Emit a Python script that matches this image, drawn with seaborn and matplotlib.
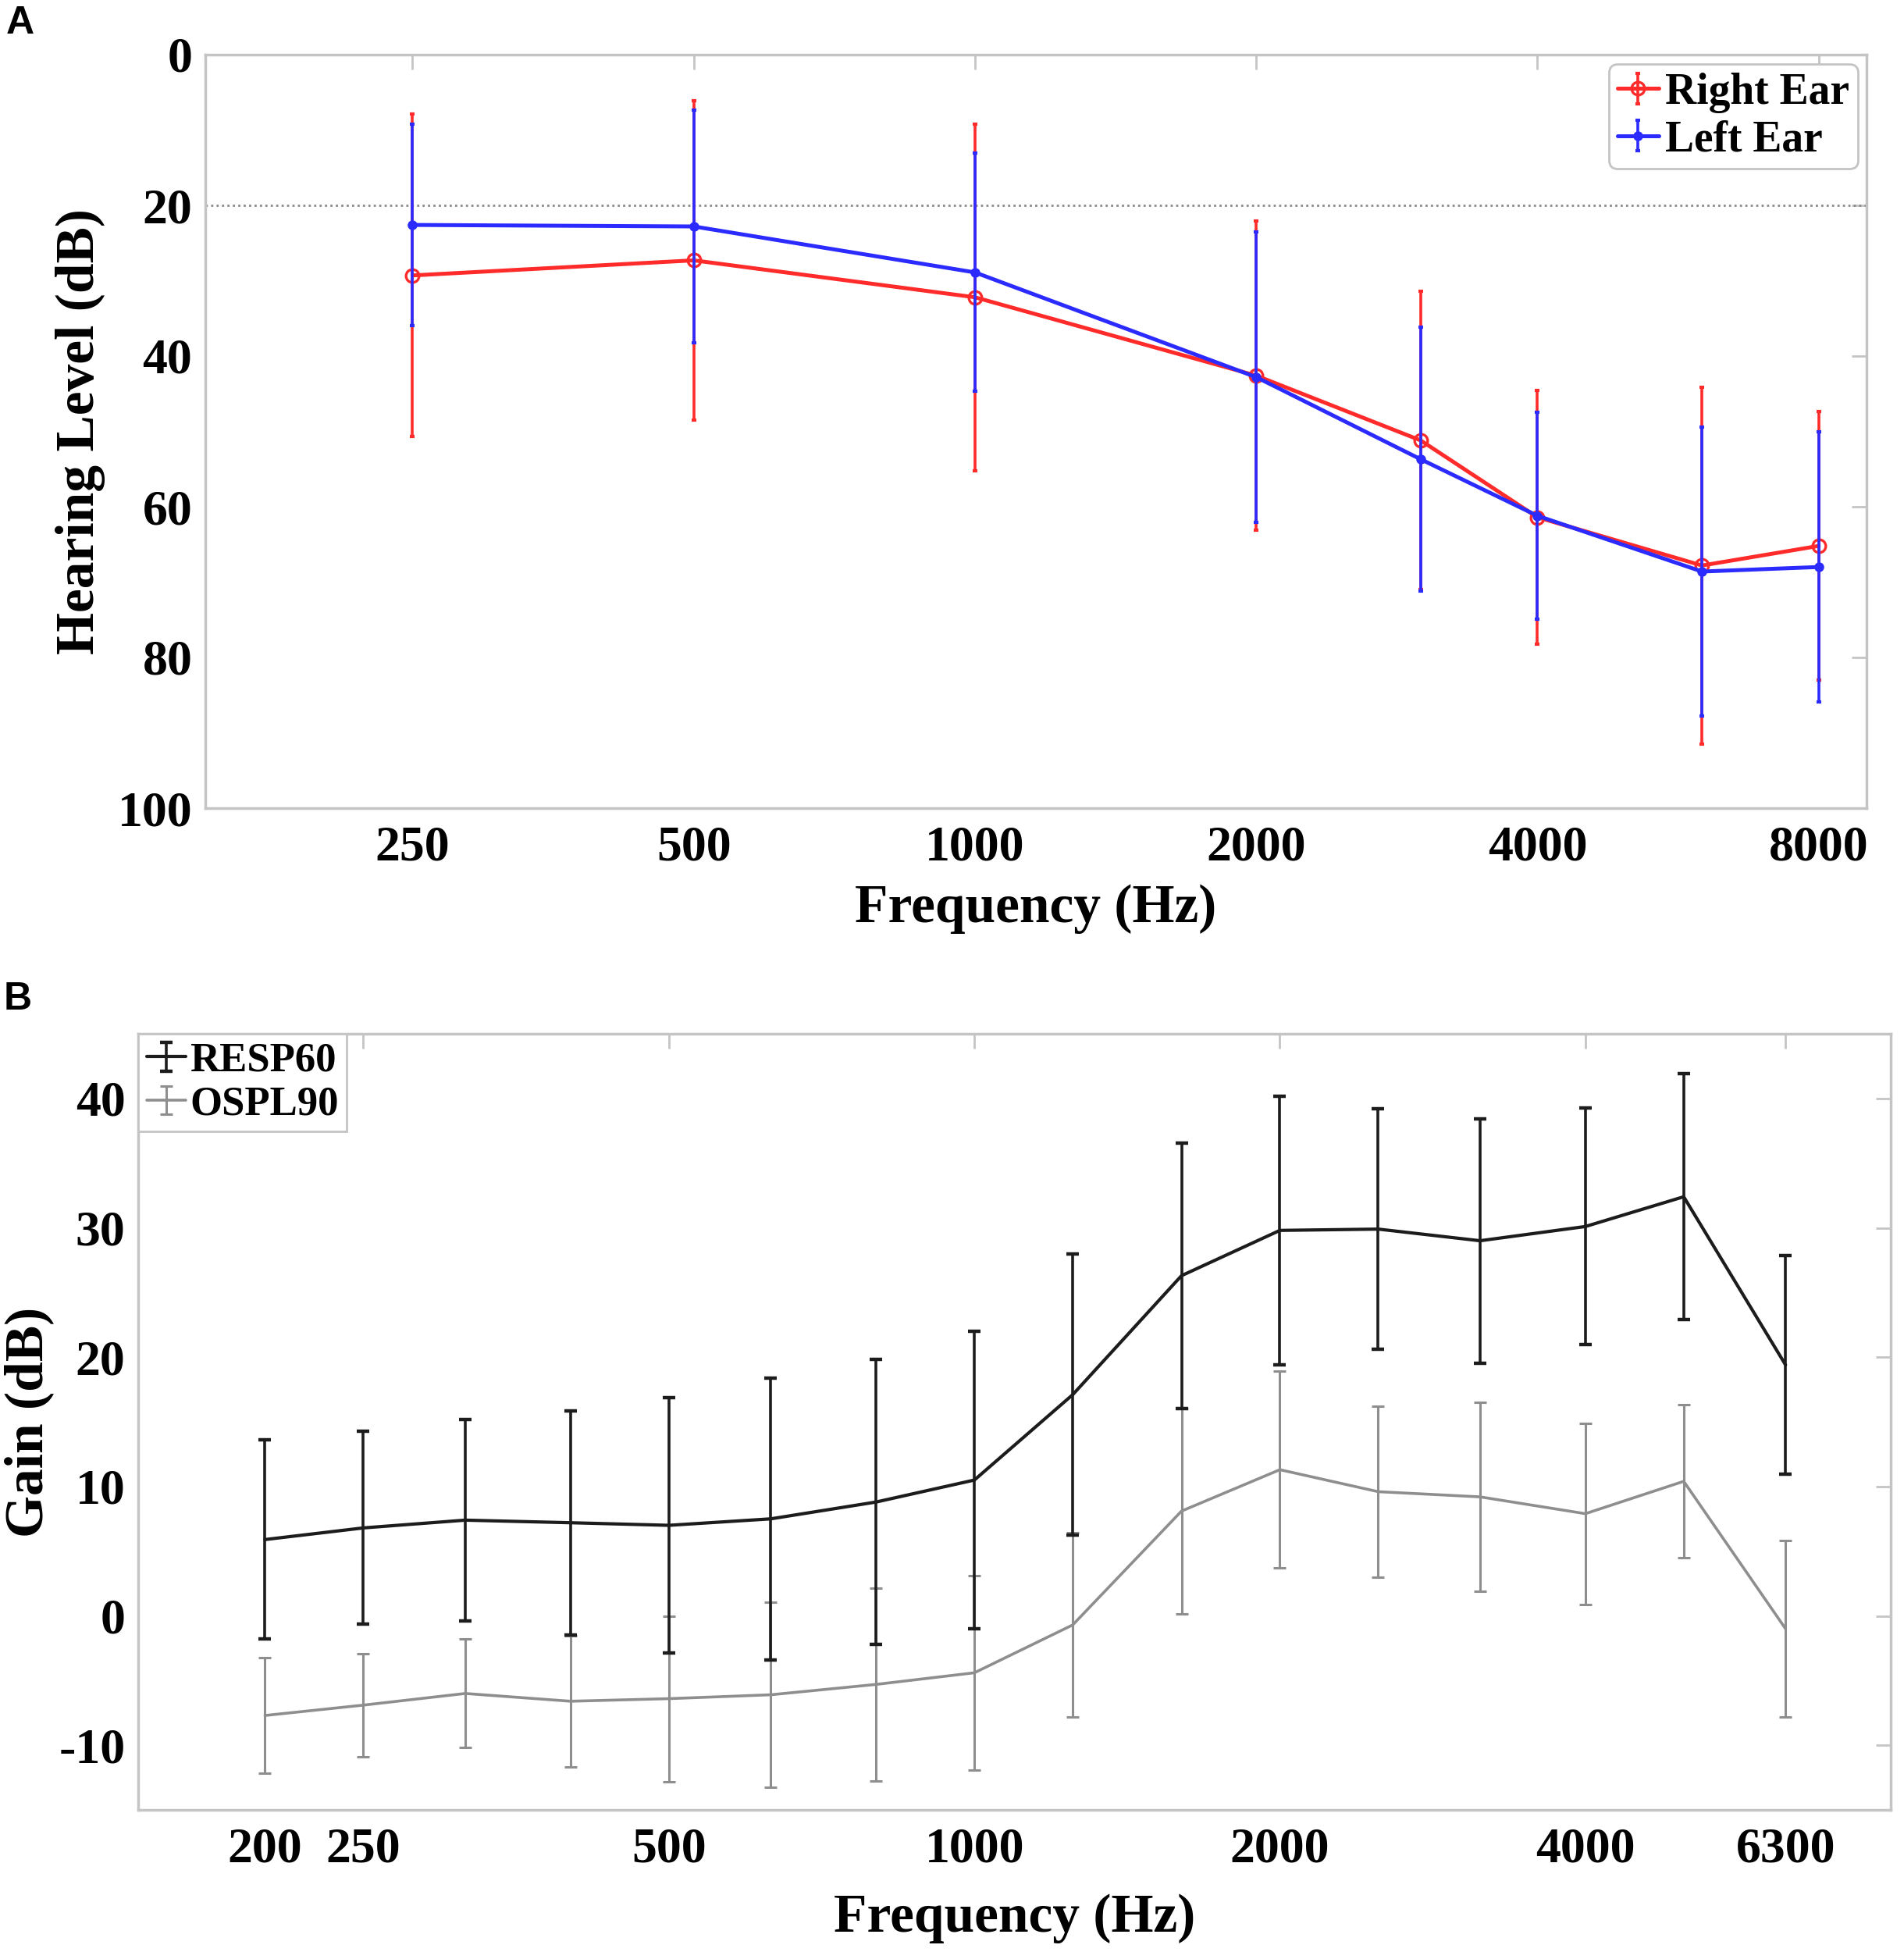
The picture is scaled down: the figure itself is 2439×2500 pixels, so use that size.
import numpy as np
import pandas as pd
import matplotlib
matplotlib.use("Agg")
import matplotlib.pyplot as plt
import seaborn as sns
from matplotlib.ticker import NullLocator
from matplotlib.legend_handler import HandlerTuple, HandlerErrorbar
from matplotlib.container import ErrorbarContainer

# panel A - audiogram
freq_a = [250, 500, 1000, 2000, 3000, 4000, 6000, 8000]
right_mean = [29.3, 27.3, 32.2, 42.6, 51.2, 61.4, 67.8, 65.2]
right_sd = [21.4, 21.2, 23.0, 20.5, 19.8, 16.8, 23.7, 17.8]
left_mean = [22.6, 22.8, 28.9, 42.8, 53.7, 61.2, 68.6, 68.0]
left_sd = [13.4, 15.4, 15.8, 19.3, 17.5, 13.7, 19.2, 17.9]
ticks_a = [250, 500, 1000, 2000, 4000, 8000]

# panel B - gain
freq_b = [200, 250, 315, 400, 500, 630, 800, 1000, 1250, 1600, 2000, 2500, 3150, 4000, 5000, 6300]
resp60_mean = [5.9, 6.8, 7.4, 7.2, 7.0, 7.5, 8.8, 10.5, 17.1, 26.3, 29.8, 29.9, 29.0, 30.1, 32.4, 19.4]
resp60_sd = [7.7, 7.45, 7.8, 8.65, 9.85, 10.9, 11.0, 11.5, 10.85, 10.25, 10.4, 9.3, 9.45, 9.15, 9.5, 8.45]
ospl90_mean = [-7.7, -6.9, -6.0, -6.6, -6.4, -6.1, -5.3, -4.4, -0.7, 8.1, 11.3, 9.6, 9.2, 7.9, 10.4, -1.0]
ospl90_sd = [4.45, 4.0, 4.2, 5.05, 6.4, 7.15, 7.45, 7.5, 7.1, 7.95, 7.6, 6.6, 7.3, 7.0, 5.9, 6.8]
ticks_b = [200, 250, 500, 1000, 2000, 4000, 6300]

sns.set_style("white")
plt.rcParams['font.family'] = ['Liberation Serif', 'DejaVu Serif']
plt.rcParams['font.weight'] = 'bold'
plt.rcParams['axes.labelweight'] = 'bold'
plt.rcParams['text.color'] = 'black'
plt.rcParams['axes.labelcolor'] = 'black'
plt.rcParams['axes.unicode_minus'] = False

spine_col = '#c4c4c4'
red = '#ff2b2b'
blue = '#2b2bff'
dark = '#1c1c1c'
grey = '#8e8e8e'

fig = plt.figure(figsize=(24.39, 25), dpi=100)
axA = fig.add_axes([0.1078, 0.586, 0.8725, 0.386])
axB = fig.add_axes([0.0726, 0.0728, 0.9205, 0.3976])

dfA = pd.DataFrame({'freq': freq_a, 'right': right_mean, 'left': left_mean})
dfB = pd.DataFrame({'freq': freq_b, 'resp': resp60_mean, 'ospl': ospl90_mean})

hmap = {tuple: HandlerTuple(ndivide=1), ErrorbarContainer: HandlerErrorbar(xerr_size=0.35)}

# ---- A ----
axA.axhline(20, color='#8a8a8a', ls=(0, (1, 1.5)), lw=2, zorder=1)
ebR = axA.errorbar(freq_a, right_mean, yerr=right_sd, fmt='none', ecolor=red,
                   elinewidth=2.6, capsize=2.5, capthick=3, zorder=2)
lnR = sns.lineplot(data=dfA, x='freq', y='right', ax=axA, color=red, lw=3.6,
                   marker='o', markersize=12, markerfacecolor='none',
                   markeredgecolor=red, markeredgewidth=2.4, zorder=3).lines[-1]
ebL = axA.errorbar(freq_a, left_mean, yerr=left_sd, fmt='none', ecolor=blue,
                   elinewidth=2.6, capsize=2.5, capthick=3, zorder=4)
lnL = sns.lineplot(data=dfA, x='freq', y='left', ax=axA, color=blue, lw=3.6,
                   marker='o', markersize=9, markeredgewidth=0, zorder=5).lines[-1]
axA.set_xscale('log')
axA.set_xlim(150, 9000)
axA.set_ylim(100, 0)
axA.set_xticks(ticks_a)
axA.set_xticklabels([str(t) for t in ticks_a])
axA.xaxis.set_minor_locator(NullLocator())
axA.set_yticks(range(0, 101, 20))
axA.set_xlabel('Frequency (Hz)', fontsize=50)
axA.set_ylabel('Hearing Level (dB)', fontsize=50)
axA.xaxis.set_label_coords(0.5, -0.10)
axA.yaxis.set_label_coords(-0.06, 0.5)
legA = axA.legend([(lnR, ebR), (lnL, ebL)], ['Right Ear', 'Left Ear'],
                  handler_map=hmap,
                  loc='upper right', bbox_to_anchor=(0.995, 0.988),
                  fontsize=40, handlelength=0.95, handletextpad=0.15,
                  labelspacing=0.15, borderpad=0.2, borderaxespad=0,
                  frameon=True, fancybox=True, framealpha=1)
legA.get_frame().set_edgecolor(spine_col)
legA.get_frame().set_linewidth(2)

# ---- B ----
ebO = axB.errorbar(freq_b, ospl90_mean, yerr=ospl90_sd, fmt='none', ecolor=grey,
                   elinewidth=2.2, capsize=6, capthick=2.2, zorder=2)
lnO = sns.lineplot(data=dfB, x='freq', y='ospl', ax=axB, color=grey, lw=2.6,
                   zorder=3).lines[-1]
ebK = axB.errorbar(freq_b, resp60_mean, yerr=resp60_sd, fmt='none', ecolor=dark,
                   elinewidth=2.6, capsize=6, capthick=3.2, zorder=4)
lnK = sns.lineplot(data=dfB, x='freq', y='resp', ax=axB, color=dark, lw=3,
                   zorder=5).lines[-1]
axB.set_xscale('log')
axB.set_xlim(150, 8000)
axB.set_ylim(-15, 45)
axB.set_xticks(ticks_b)
axB.set_xticklabels([str(t) for t in ticks_b])
axB.xaxis.set_minor_locator(NullLocator())
axB.set_yticks(range(-10, 41, 10))
axB.set_xlabel('Frequency (Hz)', fontsize=50)
axB.set_ylabel('Gain (dB)', fontsize=50)
axB.xaxis.set_label_coords(0.5, -0.108)
axB.yaxis.set_label_coords(-0.048, 0.5)
legB = axB.legend([(lnK, ebK), (lnO, ebO)], ['RESP60', 'OSPL90'],
                  handler_map=hmap,
                  loc='upper left', bbox_to_anchor=(0, 1),
                  fontsize=38, handlelength=0.95, handletextpad=0.1,
                  labelspacing=0.15, borderpad=0.2, borderaxespad=0,
                  frameon=True, fancybox=False, framealpha=1)
legB.get_frame().set_edgecolor(spine_col)
legB.get_frame().set_linewidth(2)

for ax in (axA, axB):
    for s in ax.spines.values():
        s.set_visible(True)
        s.set_color(spine_col)
        s.set_linewidth(2.5)
    ax.tick_params(axis='both', which='major', direction='in', top=True, right=True,
                   length=14, width=2, color=spine_col, labelsize=46,
                   labelcolor='black')
    ax.tick_params(axis='x', pad=16)
    ax.tick_params(axis='y', pad=12)

fig.text(0.003, 0.988, 'A', fontsize=36, fontweight='bold', color='black',
         family=['Liberation Sans', 'DejaVu Sans'], va='center', ha='left')
fig.text(0.002, 0.488, 'B', fontsize=36, fontweight='bold', color='black',
         family=['Liberation Sans', 'DejaVu Sans'], va='center', ha='left')

fig.savefig('out.png', dpi=100, facecolor='white')
